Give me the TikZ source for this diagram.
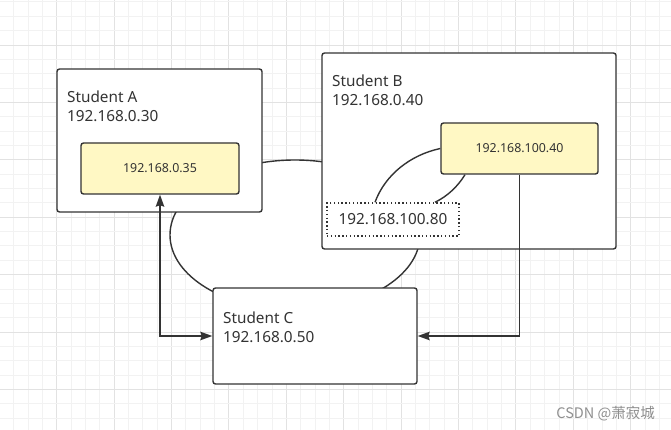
\documentclass[tikz,border=0pt]{standalone}
\usepackage{fontspec}
\setmainfont{Noto Sans}
\newfontfamily\cjkfont{Noto Sans CJK SC}
\usetikzlibrary{arrows.meta,calc}
\definecolor{ink}{HTML}{333333}
\definecolor{gridminor}{HTML}{F2F2F2}
\definecolor{gridmajor}{HTML}{E2E2E2}
\definecolor{yel}{HTML}{FFF8C4}
\definecolor{wm}{HTML}{8F8F8F}
\tikzset{
  box/.style={draw=ink, line width=1.4pt, fill=white, rounded corners=2.5pt, inner sep=0pt, anchor=center},
  ybox/.style={box, fill=yel, font=\fontsize{12.4}{14}\selectfont, text=ink},
  dbox/.style={draw=ink, line width=1.5pt, dash pattern=on 1.4pt off 2.4pt, fill=white, inner sep=0pt, font=\fontsize{15.3}{18}\selectfont, text=ink},
  lbl/.style={anchor=base west, inner sep=0pt, font=\fontsize{15.3}{18}\selectfont, text=ink},
  conn/.style={draw=ink, line width=1.4pt},
  tip/.style={-{Stealth[length=12pt,width=8.5pt,inset=1.5pt]}}
}
\begin{document}
\begin{tikzpicture}[x=1pt,y=-1pt]
\useasboundingbox (0,0) rectangle (671,430);
\fill[white] (0,0) rectangle (671,430);
% grid
\foreach \k in {0,...,47} {
  \pgfmathsetmacro{\xx}{-0.7+14.35*\k}
  \pgfmathtruncatemacro{\m}{mod(\k,4)}
  \ifnum\m=0 \draw[gridmajor,line width=0.9pt] (\xx,0) -- (\xx,430);
  \else \draw[gridminor,line width=0.9pt] (\xx,0) -- (\xx,430); \fi
}
\foreach \k in {1,...,31} {
  \pgfmathsetmacro{\yy}{-12.4+14.35*\k}
  \pgfmathtruncatemacro{\m}{mod(\k,4)}
  \ifnum\m=0 \draw[gridmajor,line width=0.9pt] (0,\yy) -- (671,\yy);
  \else \draw[gridminor,line width=0.9pt] (0,\yy) -- (671,\yy); \fi
}
% background ellipse
\draw[conn, fill=white] (295,235) ellipse [x radius=125, y radius=75];
% boxes
\node[box, minimum width=205pt, minimum height=143pt] (A) at (159.5,140.5) {};
\node[box, minimum width=294pt, minimum height=196pt] (B) at (469,151) {};
\node[box, minimum width=204pt, minimum height=96pt] (C) at (315,336) {};
\node[ybox, minimum width=158pt, minimum height=51pt] (yA) at (160,168.5) {192.168.0.35};
\node[ybox, minimum width=157pt, minimum height=51pt] (yB) at (519.5,148.5) {192.168.100.40};
\node[dbox, minimum width=132pt, minimum height=33pt] (D) at (393,219.5) {192.168.100.80};
% labels
\node[lbl] (A1) at (67,103) {Student A};
\node[lbl] (A2) at (67,122) {192.168.0.30};
\node[lbl] (B1) at (332,87) {Student B};
\node[lbl] (B2) at (332,106) {192.168.0.40};
\node[lbl] (C1) at (223,323) {Student C};
\node[lbl] (C2) at (223,342) {192.168.0.50};
% curves inside B
\draw[conn] ([xshift=-18pt]D.north) .. controls (385,175) and (410,155) .. (yB.west);
\draw[conn] ([xshift=42pt]D.north) .. controls (448,196) and (458,186) .. ([xshift=-54.5pt]yB.south);
% arrows
\draw[conn, {Stealth[length=12pt,width=8.5pt,inset=1.5pt]}-{Stealth[length=12pt,width=8.5pt,inset=1.5pt]}] (yA.south) |- (C.west);
\draw[conn, tip] (yB.south) |- (C.east);
% watermark
\node[anchor=base east, inner sep=0pt, text=wm, font=\cjkfont\fontsize{14.5}{16}\selectfont] (wm) at (655,418) {CSDN @萧寂城};
\end{tikzpicture}
\end{document}
